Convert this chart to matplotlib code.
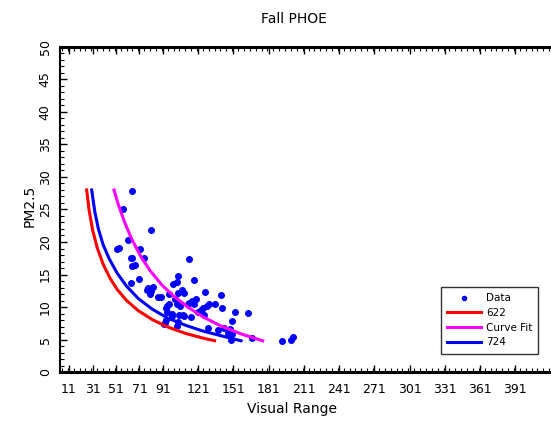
import matplotlib
matplotlib.use("Agg")
import matplotlib.pyplot as plt
from matplotlib.ticker import MultipleLocator

# measured points (visual range vs PM2.5)
data_x = [64.3, 57.2, 80.8, 60.9, 52.1, 53.6, 71.2, 63.5, 64.3, 75.1, 64.9, 67.2,
          113.2, 70.9, 64.1, 104.1, 99.8, 103.0, 117.2, 78.5, 82.2, 77.1, 80.8, 80.0,
          86.5, 89.3, 95.9, 106.9, 108.6, 103.5, 126.5, 140.7, 101.5, 118.9, 115.4,
          113.2, 112.0, 117.7, 103.0, 94.7, 93.6, 96.1, 105.5, 130.5, 128.2, 125.4,
          135.6, 141.0, 123.4, 121.1, 94.7, 99.0, 98.4, 104.7, 109.2, 107.8, 114.6,
          126.2, 152.6, 163.7, 93.6, 93.0, 103.5, 103.0, 92.2, 129.6, 138.2, 149.5,
          142.7, 148.4, 147.5, 146.1, 149.8, 148.7, 166.5, 192.1, 200.1, 201.5]
data_y = [27.9, 25.1, 21.8, 20.3, 18.9, 19.1, 18.9, 17.5, 17.6, 17.6, 16.3, 16.4,
          17.4, 14.3, 13.7, 14.8, 13.6, 13.8, 14.1, 13.0, 13.1, 12.6, 12.4, 12.0,
          11.5, 11.5, 12.0, 12.6, 12.2, 12.1, 12.3, 11.8, 11.2, 11.2, 11.0,
          10.6, 10.4, 10.4, 10.4, 10.2, 9.9, 10.5, 10.2, 10.5, 10.2, 9.9,
          10.5, 9.8, 9.5, 9.3, 9.2, 8.9, 8.6, 8.8, 8.6, 8.7, 8.4,
          8.8, 9.3, 9.1, 8.0, 7.5, 7.7, 7.1, 7.4, 6.8, 6.5, 7.8,
          6.8, 6.6, 5.95, 5.95, 5.9, 5.0, 5.3, 4.8, 5.0, 5.4]

# curves
red_x = [26, 28, 31, 35, 40, 46, 52, 60, 70, 82, 95, 110, 125, 135]
red_y = [28.0, 25.0, 21.9, 19.1, 16.6, 14.4, 12.7, 11.0, 9.43, 8.05, 6.93, 5.95, 5.22, 4.81]

blue_x = [30.3, 33, 36, 40, 45, 52, 60, 70, 82, 95, 110, 125, 140, 157.5]
blue_y = [28.0, 24.6, 22.0, 19.6, 17.5, 15.2, 13.2, 11.3, 9.65, 8.3, 7.2, 6.3, 5.6, 4.8]

fit_x = [49.3, 53, 58, 64, 72, 80, 90, 100, 112, 125, 140, 158, 176]
fit_y = [28.0, 25.75, 23.2, 20.6, 17.8, 15.6, 13.4, 11.7, 10.0, 8.48, 7.12, 5.83, 4.8]

xtick_vals = [11, 31, 51, 71, 91, 121, 151, 181, 211, 241, 271, 301, 331, 361, 391]

fig = plt.figure(figsize=(5.51, 4.23), dpi=100)
ax = fig.add_axes([60 / 551, 51 / 423, 0.9113, 325 / 423])

ax.plot(data_x, data_y, 'o', color='blue', ms=4, mec='blue', label='Data')
ax.plot(red_x, red_y, color='red', lw=2.2, label='622')
ax.plot(fit_x, fit_y, color='magenta', lw=2.2, label='Curve Fit')
ax.plot(blue_x, blue_y, color='blue', lw=2.2, label='724')

ax.set_xlim(3.3, 431)
ax.set_ylim(0, 50)

ax.set_xticks(xtick_vals)
ax.set_xticklabels([str(v) for v in xtick_vals], fontsize=9)
ax.xaxis.set_minor_locator(MultipleLocator(5))
ax.yaxis.set_major_locator(MultipleLocator(5))
ax.yaxis.set_minor_locator(MultipleLocator(1))
ax.tick_params(axis='both', which='both', direction='in', top=True, right=False)
ax.tick_params(axis='both', which='major', length=5, width=1)
ax.tick_params(axis='both', which='minor', length=3, width=0.8)
ax.tick_params(axis='x', pad=8)
ax.tick_params(axis='y', pad=6)
for lab in ax.get_yticklabels():
    lab.set_rotation(90)
    lab.set_va('center')
    lab.set_fontsize(9)

ax.spines['bottom'].set_linewidth(2.2)
ax.spines['top'].set_linewidth(2.2)
ax.spines['left'].set_linewidth(1.5)
ax.spines['right'].set_visible(False)

fig.text(294 / 551, 1 - 19 / 423, 'Fall PHOE', ha='center', va='center', fontsize=10)
fig.text(292 / 551, 1 - 409 / 423, 'Visual Range', ha='center', va='center', fontsize=10)
fig.text(30 / 551, 1 - 206 / 423, 'PM2.5', ha='center', va='center', rotation=90, fontsize=10)

leg = ax.legend(loc='upper left', bbox_to_anchor=(441 / 551, 1 - 287 / 423),
                bbox_transform=fig.transFigure, fontsize=7.5, frameon=True,
                fancybox=False, handlelength=3.2, handletextpad=0.5,
                borderpad=0.6, labelspacing=0.45, numpoints=1, borderaxespad=0)
leg.get_frame().set_edgecolor('black')
leg.get_frame().set_linewidth(1)
leg.legend_handles[0].set_markersize(3)

fig.savefig('out.png', dpi=100)
